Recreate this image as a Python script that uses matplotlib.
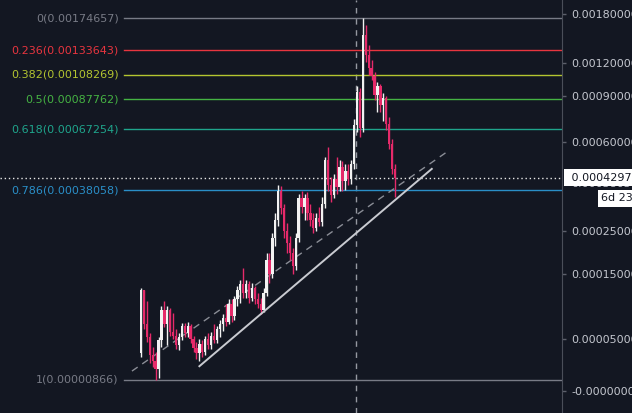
import numpy as np
import matplotlib.pyplot as plt

# candle prices, in units of 1e-5
opens = [3.4, 11.9, 6.8, 5.2, 3.2, 2.6, 1.85, 4.9, 8.85, 6.9,
         8.85, 5.8, 5.35, 4.3, 5.2, 6.6, 5.65, 6.6, 5.0, 3.95,
         3.4, 4.4, 3.5, 5.0, 4.3, 5.35, 4.9, 6.15, 6.9, 7.7,
         7.1, 9.75, 7.98, 10.4, 12.0, 13.0, 11.5, 13.0, 10.7, 12.4,
         10.4, 9.75, 8.85, 11.5, 17.8, 14.9, 23, 27.9, 37.7, 31.6,
         25.0, 21.7, 19.3, 16.5, 23, 35, 32.2, 35, 30, 27.9,
         25.6, 28.5, 27.3, 33.2, 51, 40.0, 36.3, 42.5, 39.3, 47.5,
         41.7, 45.8, 42.5, 48.9, 69.8, 93.5, 68.2, 151.5, 128.2, 115,
         107.5, 91.4, 98.6, 83.8, 89, 70.4, 58.8, 46.7]
highs = [12.4, 12.0, 10.2, 5.65, 4.05, 3.5, 5.2, 9.45, 10.2, 9.45,
         9.15, 8.4, 6.15, 5.65, 7.0, 7.0, 7.1, 6.9, 5.35, 4.6,
         5.0, 4.9, 5.35, 5.65, 5.8, 6.8, 6.6, 7.4, 8.26, 9.75,
         10.4, 10.4, 11.0, 12.7, 13.8, 16.1, 13.8, 13.6, 13.2, 12.7,
         11.4, 10.7, 12.4, 19.3, 19.3, 24.2, 30, 40.0, 39.7, 33.2,
         27, 23.4, 20.5, 24.2, 36.7, 37.7, 36.7, 37.3, 33.2, 30,
         30, 32.2, 35.6, 52, 57.1, 43, 44.5, 52, 51, 50.2,
         48.9, 48.9, 51, 73.5, 98.6, 96.8, 174.657, 164.5, 139.4, 123,
         111, 102, 100.3, 92.6, 90.6, 75, 61.5, 48.9]
lows = [3.0, 6.15, 4.6, 2.4, 2.0, 0.866, 1.0, 4.05, 6.4, 4.3,
        5.35, 5.0, 3.85, 3.75, 4.8, 5.2, 5.2, 4.5, 3.5, 2.8,
        2.6, 3.0, 3.2, 3.85, 3.85, 4.5, 4.5, 5.2, 5.9, 6.6,
        6.9, 7.1, 7.4, 9.45, 9.9, 10.7, 10.7, 9.9, 10.2, 9.75,
        9.15, 8.26, 8.55, 11.0, 13.2, 14.2, 21, 26.2, 29.7, 23,
        19.3, 17.8, 14.9, 15.7, 21.9, 30, 27.9, 27.9, 26.2, 24.2,
        24.8, 26.2, 26.2, 31.6, 37.7, 33.6, 35, 36.7, 37.7, 37.7,
        38, 40, 40.5, 46.7, 65.6, 62.6, 65.6, 121, 108.4, 104,
        87.5, 78.8, 78.8, 72.2, 67, 56, 44.5, 35.6]
closes = [11.9, 6.8, 5.2, 3.2, 2.6, 1.85, 4.9, 8.85, 6.9, 8.85,
          5.8, 5.35, 4.3, 5.2, 6.6, 5.65, 6.6, 5.0, 3.95, 3.4,
          4.4, 3.5, 5.0, 4.3, 5.35, 4.9, 6.15, 6.9, 7.7, 7.1,
          9.75, 7.98, 10.4, 12.0, 13.0, 11.5, 13.0, 10.7, 12.4, 10.4,
          9.75, 8.85, 11.5, 17.8, 14.9, 23, 27.9, 37.7, 31.6, 25.0,
          21.7, 19.3, 16.5, 23, 35, 32.2, 35, 30, 27.9, 25.6,
          28.5, 27.3, 33.2, 51, 40.0, 36.3, 42.5, 39.3, 47.5, 41.7,
          45.8, 42.5, 48.9, 69.8, 93.5, 68.2, 151.5, 128.2, 115, 107.5,
          91.4, 98.6, 83.8, 89, 70.4, 58.8, 46.7, 42.97]

fib_ratios = [0, 0.236, 0.382, 0.5, 0.618, 0.786, 1]
fib_prices = [0.00174657, 0.00133643, 0.00108269, 0.00087762,
              0.00067254, 0.00038058, 0.00000866]
fib_colors = ['#787b86', '#e8353f', '#b4c530', '#45b343',
              '#1fa58c', '#2a8fc8', '#787b86']

axis_ticks = [0.0018, 0.0012, 0.0009, 0.0006, 0.00025, 0.00015, 0.00005, 0.0]
axis_labels = ['0.00180000', '0.00120000', '0.00090000', '0.00060000',
               '0.00025000', '0.00015000', '0.00005000', '-0.0000000']

# trend lines: (bar index, price in 1e-5)
trend_solid = ([20.0, 99.6], [2.1, 46.7])
trend_dashed = ([-3.1, 105.5], [1.65, 55.5])
marker_bar = 73.6
countdown = '6d 23h'

BG = '#131722'
UP = '#f2f2f2'
DOWN = '#e62a6a'
TXT = '#c3c6ce'

o = np.array(opens) * 1e-5
h = np.array(highs) * 1e-5
l = np.array(lows) * 1e-5
c = np.array(closes) * 1e-5
idx = np.arange(len(o))
last = c[-1]

fig = plt.figure(figsize=(6.32, 4.13), dpi=100, facecolor=BG)
ax = fig.add_axes([0, 0, 562 / 632, 1], facecolor=BG)

# tradingview-like log scale that still shows values near zero
off = 1e-4
ax.set_yscale('function', functions=(lambda y: np.log10(np.maximum(y + off, 1e-9)),
                                      lambda y: 10 ** y - off))
ax.set_ylim(-0.0000161, 0.0020263)
ax.set_xlim(-48.3, 144.2)

# fib levels
fib_start = -5.8
for r, p, col in zip(fib_ratios, fib_prices, fib_colors):
    ax.plot([fib_start, 144.2], [p, p], color=col, lw=1, zorder=2)
    ax.annotate(f'{r:g}({p:.8f})', xy=(fib_start, p), xytext=(-4, 0),
                textcoords='offset points', ha='right', va='center',
                fontsize=8, color=col)

# candles
up = c >= o
cols = np.where(up, UP, DOWN)
ax.vlines(idx, l, h, colors=cols, lw=1.0, zorder=4)
ax.bar(idx, np.maximum(np.abs(c - o), 1e-7), bottom=np.minimum(o, c),
       width=0.8, color=cols, linewidth=0, zorder=5)

# drawings
ax.plot(trend_solid[0], np.array(trend_solid[1]) * 1e-5, color='#c9cbd1', lw=1.4, zorder=6)
ax.plot(trend_dashed[0], np.array(trend_dashed[1]) * 1e-5, color='#8a8d96', lw=1,
        dashes=(5, 4), zorder=3)
ax.axvline(marker_bar, color='#9598a1', lw=1, dashes=(4, 4), zorder=1)
ax.axhline(last, color='#e8e8e8', lw=1, dashes=(1, 2), zorder=3)

# right price axis
ax.yaxis.tick_right()
ax.set_yticks(axis_ticks)
ax.set_yticklabels(axis_labels)
ax.tick_params(axis='y', colors='#5d606b', length=3, width=1, pad=4,
               labelcolor=TXT, labelsize=8)
ax.set_xticks([])
for s in ['top', 'left', 'bottom']:
    ax.spines[s].set_visible(False)
ax.spines['right'].set_color('#4a4e59')

trans = ax.get_yaxis_transform()
ax.annotate(f'{fib_prices[5]:.8f}', xy=(1, fib_prices[5]), xycoords=trans,
            xytext=(7, 4), textcoords='offset points', ha='left', va='center',
            fontsize=8, color=TXT, annotation_clip=False, zorder=8,
            bbox=dict(boxstyle='square,pad=0.2', fc=BG, ec='none'))
ax.annotate(f' {last:.7f}', xy=(1, last), xycoords=trans, xytext=(4, 0),
            textcoords='offset points', ha='left', va='center', fontsize=8,
            color='#131722', annotation_clip=False, zorder=10,
            bbox=dict(boxstyle='square,pad=0.3', fc='white', ec='none'))
ax.annotate(countdown, xy=(1, last), xycoords=trans, xytext=(28, -15),
            textcoords='offset points', ha='left', va='center', fontsize=8,
            color='#131722', annotation_clip=False, zorder=10,
            bbox=dict(boxstyle='square,pad=0.3', fc='white', ec='none'))

plt.savefig('out.png', dpi=100, facecolor=BG)
